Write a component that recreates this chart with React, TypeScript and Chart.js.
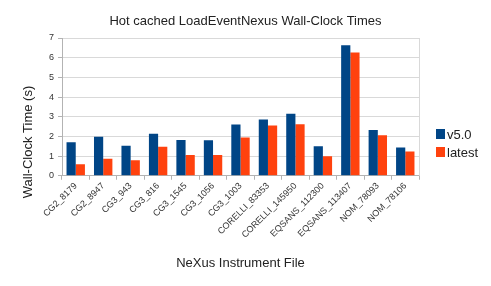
import React, { useEffect, useRef } from "react";
import { Chart, registerables } from "chart.js";

Chart.register(...registerables);

const categories = [
  "CG2_8179", "CG2_8947", "CG3_943", "CG3_816", "CG3_1545", "CG3_1056", "CG3_1003",
  "CORELLI_83353", "CORELLI_145950", "EQSANS_112300", "EQSANS_113407", "NOM_78093", "NOM_78106",
];
const v50 = [1.7, 1.98, 1.52, 2.13, 1.82, 1.8, 2.6, 2.86, 3.15, 1.5, 6.63, 2.33, 1.44];
const latest = [0.59, 0.87, 0.79, 1.47, 1.06, 1.05, 1.95, 2.56, 2.62, 0.99, 6.26, 2.06, 1.23];
const yTicks = [0, 1, 2, 3, 4, 5, 6, 7];
const chartTitle = "Hot cached LoadEventNexus Wall-Clock Times";
const yTitle = "Wall-Clock Time (s)";
const xTitle = "NeXus Instrument File";

const FONT = "'Liberation Sans', Arial, sans-serif";

export default function App() {
  const ref = useRef<HTMLCanvasElement | null>(null);
  useEffect(() => {
    document.body.style.margin = "0";
    const canvas = ref.current;
    if (!canvas) return;
    const frame = {
      id: "frame",
      afterDraw(chart: any) {
        const { ctx, chartArea: a } = chart;
        ctx.save();
        ctx.strokeStyle = "#d9d9d9";
        ctx.lineWidth = 1;
        ctx.beginPath();
        ctx.moveTo(Math.round(a.right) + 0.5, a.top);
        ctx.lineTo(Math.round(a.right) + 0.5, a.bottom);
        ctx.stroke();
        ctx.fillStyle = "#222";
        ctx.font = `13px ${FONT}`;
        ctx.textAlign = "center";
        ctx.textBaseline = "middle";
        ctx.fillText(chartTitle, chart.width / 2, 21);
        ctx.save();
        ctx.translate(28, 142);
        ctx.rotate(-Math.PI / 2);
        ctx.fillText(yTitle, 0, 0);
        ctx.restore();
        // legend
        ctx.textAlign = "left";
        chart.data.datasets.forEach((ds: any, i: number) => {
          const cy = 134 + i * 18;
          ctx.fillStyle = ds.backgroundColor;
          ctx.fillRect(436, cy - 5, 9, 10);
          ctx.fillStyle = "#222";
          ctx.fillText(ds.label, 447, cy + 1);
        });
        ctx.restore();
      },
    };
    const chart = new Chart(canvas, {
      type: "bar",
      data: {
        labels: categories,
        datasets: [
          { label: "v5.0", data: v50, backgroundColor: "#004586", borderWidth: 0 },
          { label: "latest", data: latest, backgroundColor: "#ff420e", borderWidth: 0 },
        ],
      },
      plugins: [frame],
      options: {
        responsive: false,
        animation: false,
        devicePixelRatio: 1,
        layout: { padding: { left: 0, right: 72, top: 38, bottom: 15 } },
        datasets: { bar: { categoryPercentage: 0.67, barPercentage: 1 } },
        plugins: {
          title: { display: false },
          legend: { display: false },
          tooltip: { enabled: false },
        },
        scales: {
          x: {
            grid: { offset: true, drawOnChartArea: false, drawTicks: true, tickLength: 4, color: "#b3b3b3" },
            border: { color: "#b3b3b3" },
            ticks: {
              autoSkip: false,
              minRotation: 45,
              maxRotation: 45,
              color: "#333",
              font: { family: FONT, size: 9 },
              padding: 1,
            },
            title: {
              display: true,
              text: xTitle,
              color: "#222",
              font: { family: FONT, size: 13 },
              padding: { top: 14, bottom: 0 },
            },
          },
          y: {
            min: 0,
            max: 7,
            afterBuildTicks: (s: any) => { s.ticks = yTicks.map((v) => ({ value: v })); },
            afterFit: (s: any) => { s.width = 62; },
            grid: { color: "#d9d9d9", tickLength: 4, tickColor: "#b3b3b3" },
            border: { color: "#b3b3b3" },
            ticks: { color: "#333", font: { family: FONT, size: 9 }, padding: 4 },
          },
        },
      },
    });
    return () => chart.destroy();
  }, []);
  return (
    <div style={{ width: 491, height: 286 }}>
      <canvas ref={ref} width={491} height={286} style={{ display: "block" }} />
    </div>
  );
}
